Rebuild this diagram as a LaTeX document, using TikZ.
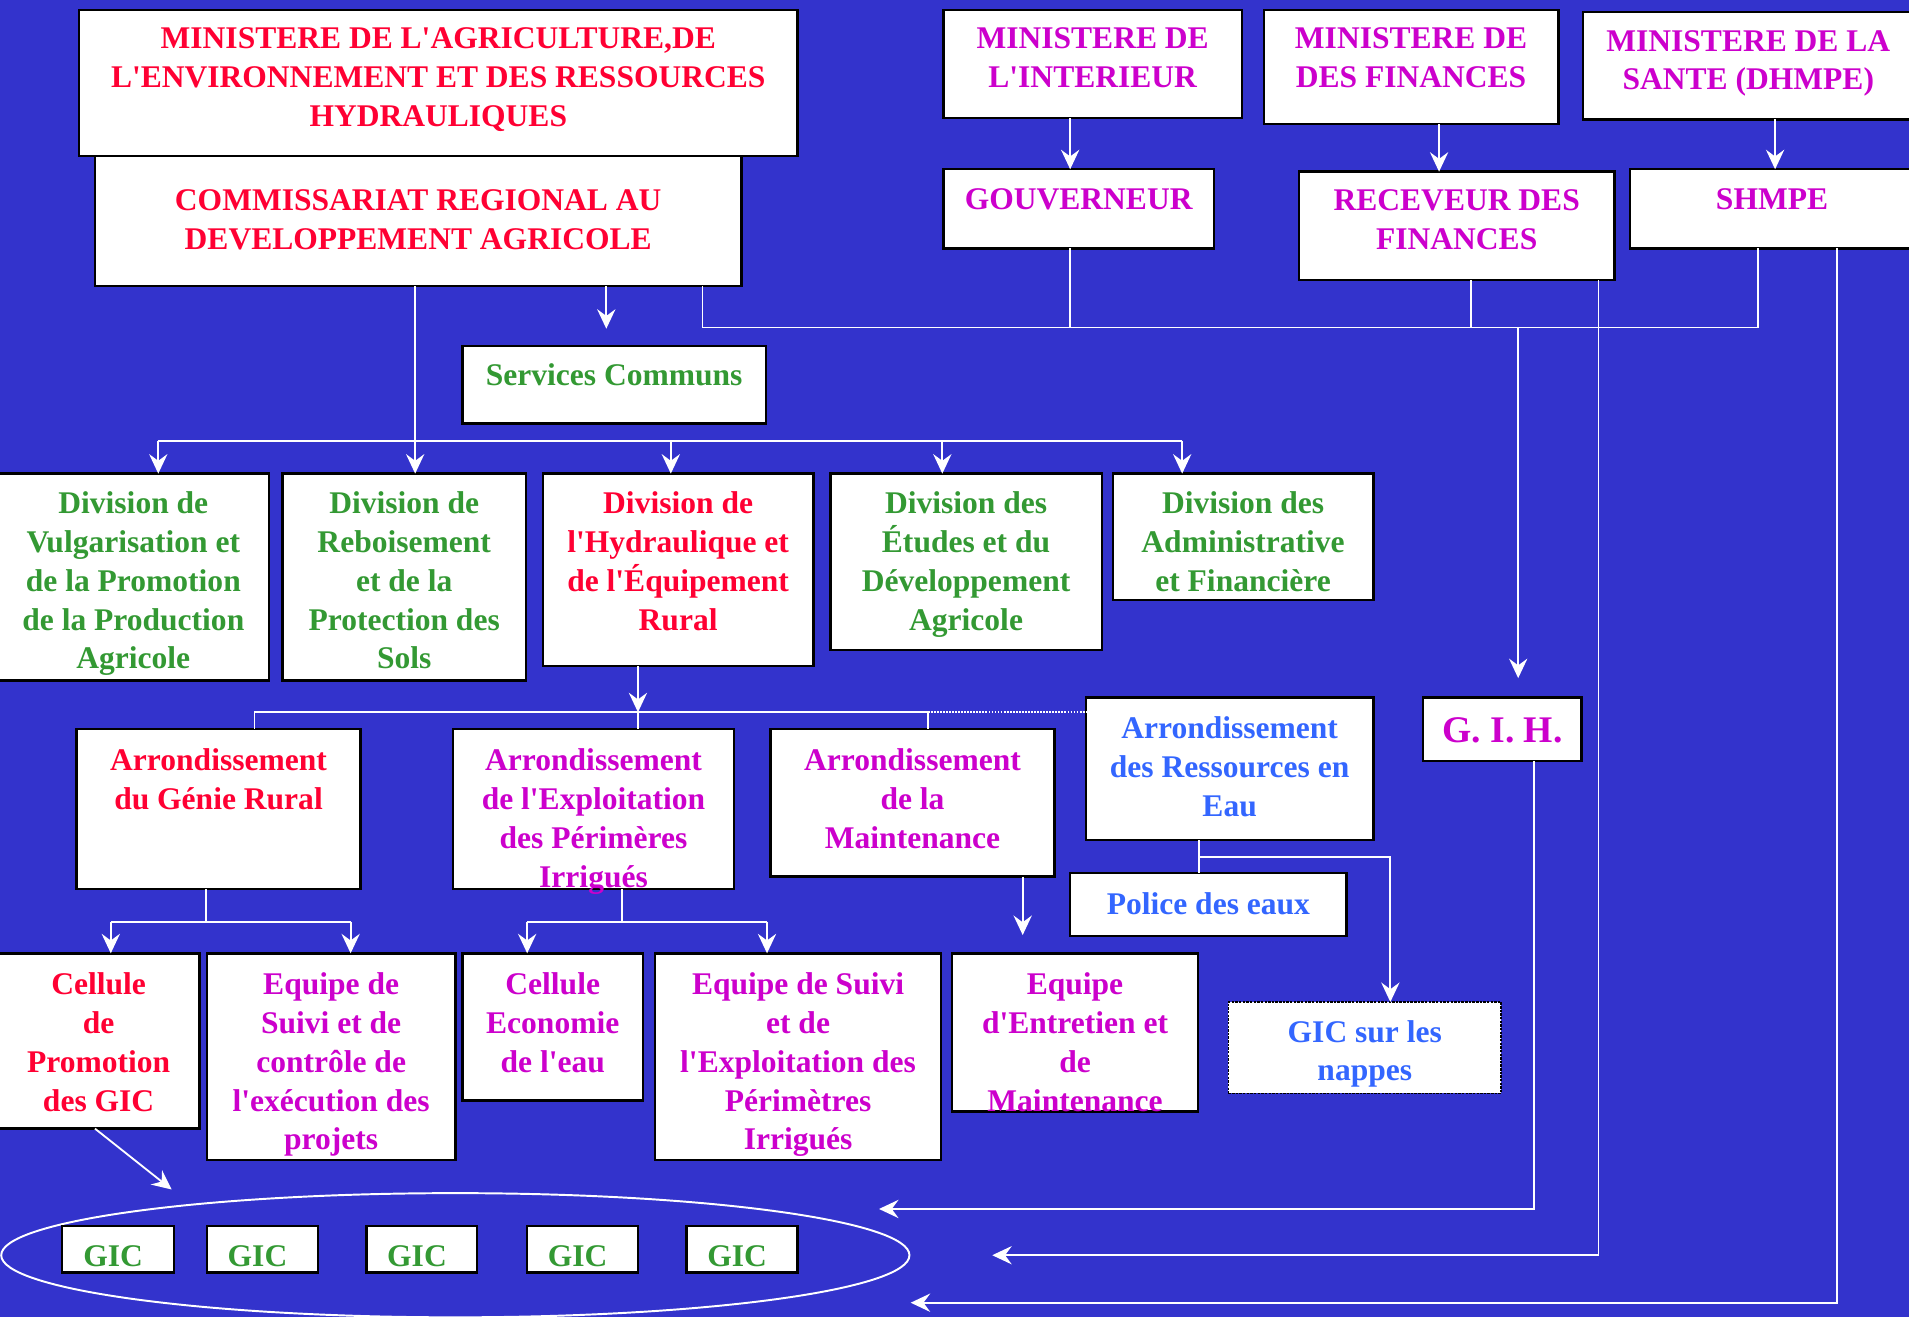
\documentclass[tikz,border=0pt]{standalone}
\usepackage{fontspec}
\setmainfont{Liberation Serif}[Ligatures=TeXOff]
\usetikzlibrary{arrows.meta,calc,shapes.geometric}
\definecolor{bg}{RGB}{51,51,204}
\definecolor{tred}{RGB}{255,0,51}
\definecolor{tmag}{RGB}{204,0,204}
\definecolor{tgrn}{RGB}{51,153,51}
\definecolor{tblu}{RGB}{51,102,255}
% name, options, x, y, w, h, colour, gap, text
\newcommand{\orgbox}[9]{\node[box,#2,anchor=north west] (#1) at (#3,#4) {\begin{minipage}[t][#6bp][t]{#5bp}\centering\color{#7}\vspace*{#8bp}\strut #9\end{minipage}};}
\begin{document}
\begin{tikzpicture}[x=1bp,y=-1bp,
  box/.style={draw=black,line width=2bp,fill=white,inner sep=0pt,outer sep=0pt,font=\fontsize{26}{32}\selectfont\bfseries},
  dotbox/.style={draw=black,densely dotted,line width=1.2bp},
  bigtext/.style={font=\fontsize{31}{36}\selectfont\bfseries},
  conn/.style={draw=white,line width=1.5bp},
  arr/.style={conn,-{Stealth[length=16bp,width=15bp,inset=5.5bp]}},
  gicring/.style={draw=white,line width=1.6bp,ellipse,inner sep=0pt,minimum width=746bp,minimum height=102bp}
]
\useasboundingbox (0,0) rectangle (1568,1082);
\fill[bg] (0,0) rectangle (1568,1082);

% ---- boxes
\orgbox{crda}{}{78}{128}{531}{107}{tred}{22.6}{COMMISSARIAT REGIONAL AU\\DEVELOPPEMENT AGRICOLE}
\orgbox{minagri}{}{65}{8}{590}{120}{tred}{9.6}{MINISTERE DE L'AGRICULTURE,DE\\L'ENVIRONNEMENT ET DES RESSOURCES\\HYDRAULIQUES}
\orgbox{minint}{}{775}{8}{245}{89}{tmag}{9.6}{MINISTERE DE\\L'INTERIEUR}
\orgbox{minfin}{}{1038}{8}{242}{94}{tmag}{9.6}{MINISTERE DE\\DES FINANCES}
\orgbox{minsante}{}{1300}{10}{272}{88}{tmag}{9.6}{MINISTERE DE LA\\SANTE (DHMPE)}
\orgbox{gouv}{}{775}{139}{222}{65}{tmag}{10.6}{GOUVERNEUR}
\orgbox{rec}{}{1067}{141}{259}{89}{tmag}{9.6}{RECEVEUR DES\\FINANCES}
\orgbox{shmpe}{}{1339}{139}{233}{65}{tmag}{10.6}{SHMPE}
\orgbox{serv}{}{380}{284}{249}{64}{tgrn}{10.6}{Services Communs}
\orgbox{divvul}{}{-2}{389}{223}{170}{tgrn}{10.6}{Division de\\Vulgarisation et\\de la Promotion\\de la Production\\Agricole}
\orgbox{divreb}{}{232}{389}{200}{170}{tgrn}{10.6}{Division de\\Reboisement\\et de la\\Protection des\\Sols}
\orgbox{divhyd}{}{446}{389}{222}{158}{tred}{10.6}{Division de\\l'Hydraulique et\\de l'Équipement\\Rural}
\orgbox{divetu}{}{682}{389}{223}{145}{tgrn}{10.6}{Division des\\Études et du\\Développement\\Agricole}
\orgbox{divadm}{}{914}{389}{214}{104}{tgrn}{10.6}{Division des\\Administrative\\et Financière}
\orgbox{arrgr}{}{63}{599}{233}{131}{tred}{11.6}{Arrondissement\\du Génie Rural}
\orgbox{arrexp}{}{372}{599}{231}{131}{tmag}{11.6}{Arrondissement\\de l'Exploitation\\des Périmères\\Irrigués}
\orgbox{arrmnt}{}{633}{599}{233}{121}{tmag}{11.6}{Arrondissement\\de la\\Maintenance}
\orgbox{arrres}{}{892}{573}{236}{117}{tblu}{11.6}{Arrondissement\\des Ressources en\\Eau}
\orgbox{gih}{bigtext}{1169}{573}{130}{52}{tmag}{12}{G. I. H.}
\orgbox{police}{}{879}{717}{227}{52}{tblu}{11.6}{Police des eaux}
\orgbox{celprom}{}{-2}{783}{166}{144}{tred}{11.6}{Cellule\\de\\Promotion\\des GIC}
\orgbox{eqsuivi}{}{170}{783}{204}{170}{tmag}{11.6}{Equipe de\\Suivi et de\\contrôle de\\l'exécution des\\projets}
\orgbox{celeco}{}{380}{783}{148}{121}{tmag}{11.6}{Cellule\\Economie\\de l'eau}
\orgbox{eqexp}{}{538}{783}{235}{170}{tmag}{11.6}{Equipe de Suivi\\et de\\l'Exploitation des\\Périmètres\\Irrigués}
\orgbox{eqent}{}{782}{783}{202}{130}{tmag}{11.6}{Equipe\\d'Entretien et\\de\\Maintenance}
\orgbox{nappes}{dotbox}{1009}{823}{224}{75}{tblu}{10.6}{GIC sur les\\nappes}

\node[gicring] (ring) at (374,1031) {};
\orgbox{gica}{}{51}{1007}{92}{38}{tgrn}{10.6}{\hspace*{-8bp}GIC}
\orgbox{gicb}{}{170}{1007}{91}{38}{tgrn}{10.6}{\hspace*{-8bp}GIC}
\orgbox{gicc}{}{301}{1007}{91}{38}{tgrn}{10.6}{\hspace*{-8bp}GIC}
\orgbox{gicd}{}{433}{1007}{91}{38}{tgrn}{10.6}{\hspace*{-8bp}GIC}
\orgbox{gice}{}{564}{1007}{91}{38}{tgrn}{10.6}{\hspace*{-8bp}GIC}

% ---- connectors
% CRDA to divisions
\coordinate (b1) at (130,362);
\coordinate (b2) at (341,362);
\coordinate (b3) at (551,362);
\coordinate (b4) at (774,362);
\coordinate (b5) at (971,362);
\draw[conn] (crda.south -| b2) -- (b2);
\draw[conn] (b1) -- (b5);
\draw[arr] (b1) -- (b1 |- divvul.north);
\draw[arr] (b2) -- (b2 |- divreb.north);
\draw[arr] (b3) -- (b3 |- divhyd.north);
\draw[arr] (b4) -- (b4 |- divetu.north);
\draw[arr] (b5) -- (b5 |- divadm.north);
% CRDA to services communs
\coordinate (sc) at (498,270);
\draw[arr] (crda.south -| sc) -- (sc);
% right bus
\coordinate (r0) at (577,269);
\coordinate (r1) at (1444,269);
\coordinate (rg) at (879,269);
\coordinate (rr) at (1208,269);
\coordinate (rh) at (1247,269);
\coordinate (gihin) at (1247,557);
\draw[conn] (crda.south -| r0) -- (r0) -- (r1) -- (r1 |- shmpe.south);
\draw[conn] (gouv.south -| rg) -- (rg);
\draw[conn] (rec.south -| rr) -- (rr);
\draw[arr] (rh) -- (gihin);
% ministries
\coordinate (mf) at (1182,0);
\coordinate (ms) at (1458,0);
\draw[arr] (minint.south -| rg) -- (gouv.north -| rg);
\draw[arr] (minfin.south -| mf) -- (rec.north -| mf);
\draw[arr] (minsante.south -| ms) -- (shmpe.north -| ms);
% long returns to the GIC ring
\coordinate (l1) at (1313,1031); \coordinate (e1) at (815,1031);
\coordinate (l2) at (1509,1070); \coordinate (e2) at (748,1070);
\coordinate (l3) at (1260,993);  \coordinate (e3) at (722,993);
\draw[arr] (rec.south -| l1) -- (l1) -- (e1);
\draw[arr] (shmpe.south -| l2) -- (l2) -- (e2);
\draw[arr] (gih.south -| l3) -- (l3) -- (e3);
% Hydraulique
\coordinate (h0) at (524,585);
\coordinate (h1) at (209,585);
\coordinate (h3) at (762,585);
\draw[arr] (divhyd.south -| h0) -- (h0);
\draw[conn] (h1) -- (h3);
\draw[conn] (h1) -- (h1 |- arrgr.north);
\draw[conn] (h0) -- (h0 |- arrexp.north);
\draw[conn] (h3) -- (h3 |- arrmnt.north);
\draw[conn,densely dotted] (h3) -- (h3 -| arrres.west);
% Genie rural
\coordinate (g0) at (169,757); \coordinate (g1) at (91,757); \coordinate (g2) at (288,757);
\draw[conn] (arrgr.south -| g0) -- (g0);
\draw[conn] (g1) -- (g2);
\draw[arr] (g1) -- (g1 |- celprom.north);
\draw[arr] (g2) -- (g2 |- eqsuivi.north);
% Exploitation
\coordinate (x0) at (511,757); \coordinate (x1) at (433,757); \coordinate (x2) at (630,757);
\draw[conn] (arrexp.south -| x0) -- (x0);
\draw[conn] (x1) -- (x2);
\draw[arr] (x1) -- (x1 |- celeco.north);
\draw[arr] (x2) -- (x2 |- eqexp.north);
% Maintenance
\coordinate (m0) at (840,768);
\draw[arr] (arrmnt.south -| m0) -- (m0);
% Ressources en eau
\coordinate (w0) at (985,704); \coordinate (w1) at (1142,704);
\draw[conn] (arrres.south -| w0) -- (police.north -| w0);
\draw[arr] (w0) -- (w1) -- (w1 |- nappes.north);
% Cellule de promotion to ring
\coordinate (cp) at (78,0); \coordinate (cpe) at (141,977);
\draw[arr] (celprom.south -| cp) -- (cpe);
\end{tikzpicture}
\end{document}
